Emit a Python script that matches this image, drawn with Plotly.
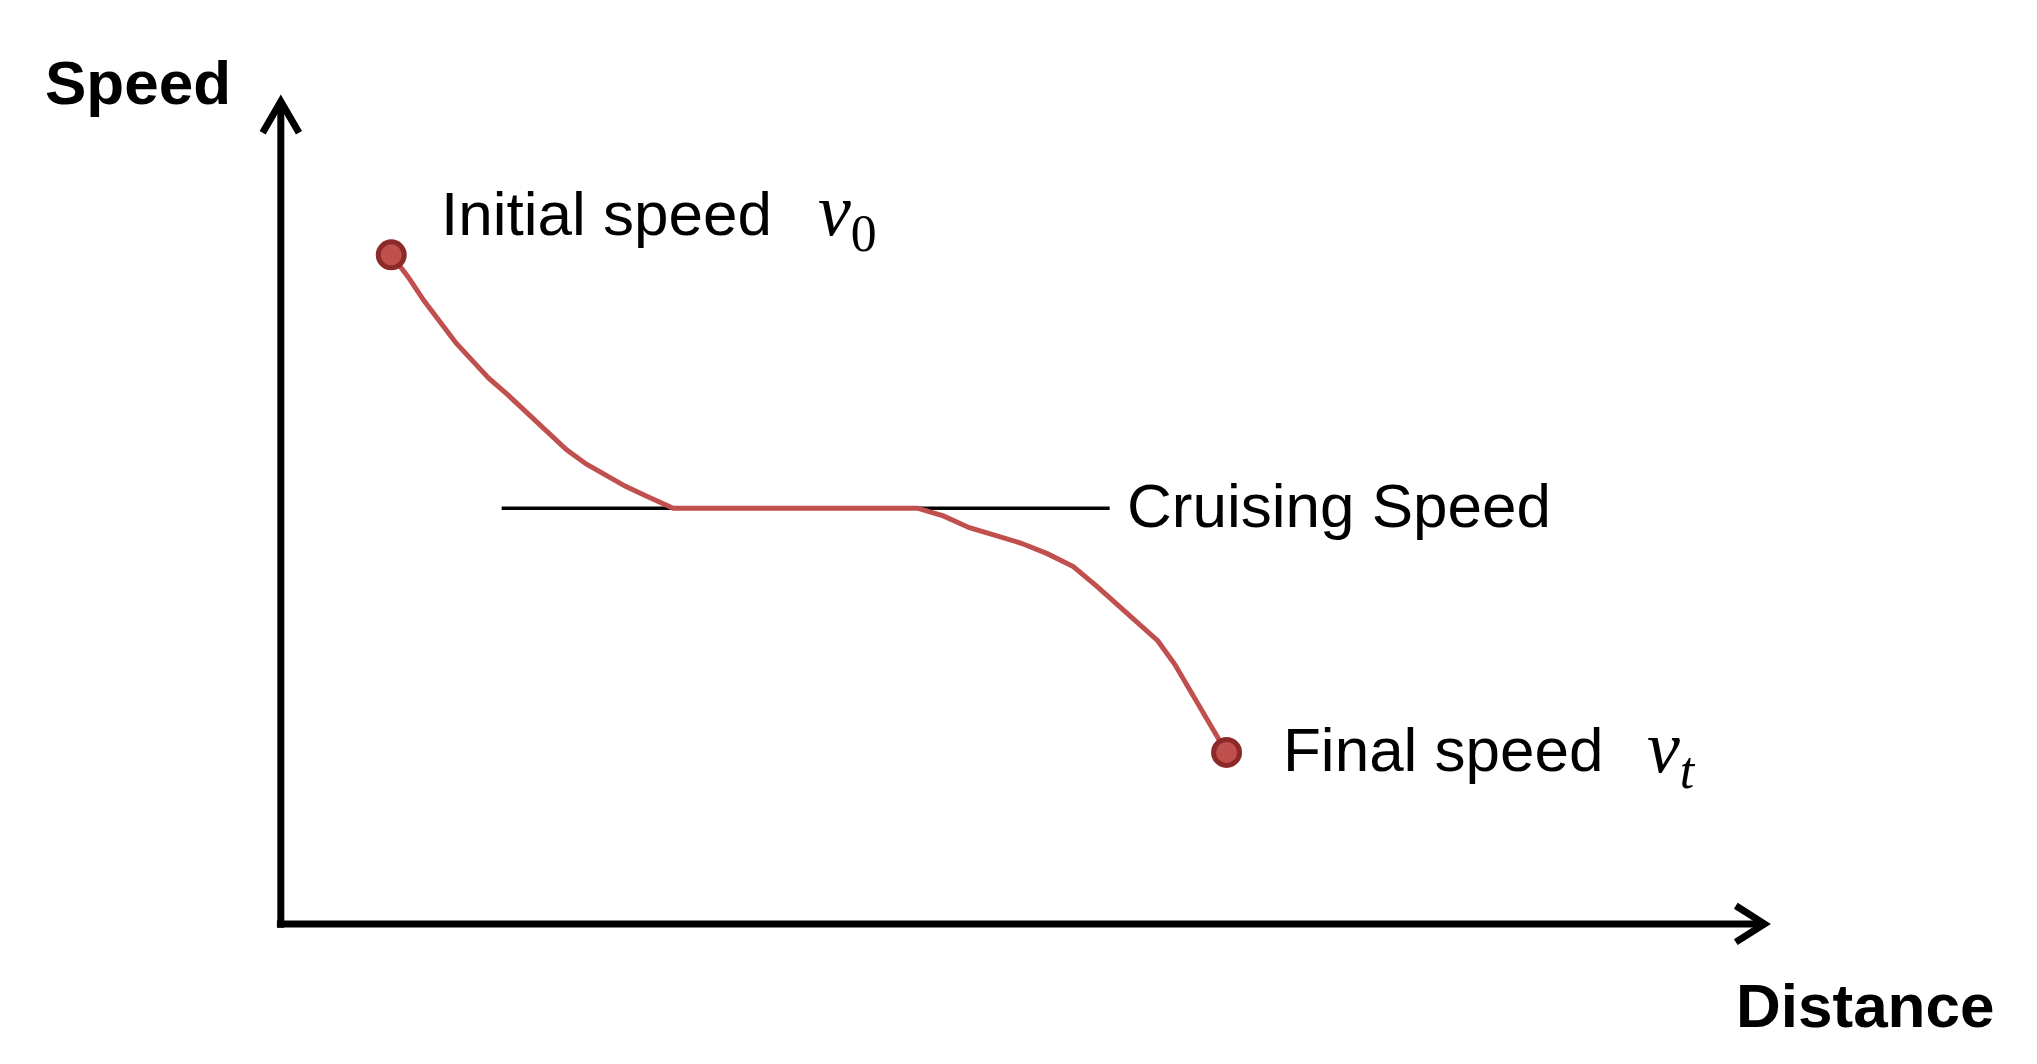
import plotly.graph_objects as go

# curve sample points (reference pixel frame, 1568 x 819)
curve_x = [295, 308, 320, 333, 345, 358, 370, 385, 400, 415, 430, 445, 460, 475, 490, 502, 512, 600, 700, 720, 740, 760, 780, 800, 820, 838, 855, 870, 885, 898, 910, 924, 938]
curve_y = [190, 207, 225, 242, 258, 272, 285, 298, 312, 326, 340, 351, 360, 368, 375, 381, 385, 385, 385, 391, 400, 406, 412, 420, 430, 445, 460, 473, 487, 505, 525, 549, 573]
end_x = [295, 938]
end_y = [190, 573]
cruise_x = [380, 848]
cruise_y = [385, 385]

W, H = 1568, 819
fig = go.Figure()
fig.add_trace(go.Scatter(x=cruise_x, y=cruise_y, mode="lines",
                         line=dict(color="black", width=3.5), hoverinfo="skip"))
fig.add_trace(go.Scatter(x=curve_x, y=curve_y, mode="lines",
                         line=dict(color="#C0504D", width=5), hoverinfo="skip"))
fig.add_trace(go.Scatter(x=end_x, y=end_y, mode="markers",
                         marker=dict(size=26, color="#C0504D", line=dict(color="#8B2A28", width=5)),
                         hoverinfo="skip"))

axis_style = dict(color="black", width=7)
shapes = [
    dict(type="line", xref="x", yref="y", x0=210, y0=708, x1=210, y1=72, line=axis_style),
    dict(type="line", xref="x", yref="y", x0=207, y0=705, x1=1352, y1=705, line=axis_style),
    dict(type="path", xref="x", yref="y", path="M 196 96 L 210 72 L 224 96", line=axis_style),
    dict(type="path", xref="x", yref="y", path="M 1330 691 L 1352 705 L 1330 719", line=axis_style),
]

sans = "Liberation Sans, Arial"
serif = "Liberation Serif, Times New Roman"
ann = []
ann.append(dict(x=27, y=57, xref="x", yref="y", text="<b>Speed</b>", showarrow=False,
                xanchor="left", yanchor="middle", font=dict(family=sans, size=62, color="black")))
ann.append(dict(x=1530, y=768, xref="x", yref="y", text="<b>Distance</b>", showarrow=False,
                xanchor="right", yanchor="middle", font=dict(family=sans, size=62, color="black")))
ann.append(dict(x=332, y=158, xref="x", yref="y", text="Initial speed", showarrow=False,
                xanchor="left", yanchor="middle", font=dict(family=sans, size=62, color="black")))
ann.append(dict(x=622, y=160, xref="x", yref="y", text="<i>v</i><sub>0</sub>", showarrow=False,
                xanchor="left", yanchor="middle", font=dict(family=serif, size=74, color="black")))
ann.append(dict(x=860, y=383, xref="x", yref="y", text="Cruising Speed", showarrow=False,
                xanchor="left", yanchor="middle", font=dict(family=sans, size=62, color="black")))
ann.append(dict(x=980, y=571, xref="x", yref="y", text="Final speed", showarrow=False,
                xanchor="left", yanchor="middle", font=dict(family=sans, size=62, color="black")))
ann.append(dict(x=1260, y=573, xref="x", yref="y", text="<i>v</i><sub><i>t</i></sub>", showarrow=False,
                xanchor="left", yanchor="middle", font=dict(family=serif, size=74, color="black")))

fig.update_layout(
    width=2037, height=1064, margin=dict(l=0, r=0, t=0, b=0),
    paper_bgcolor="white", plot_bgcolor="white", showlegend=False,
    xaxis=dict(range=[0, W], visible=False, fixedrange=True),
    yaxis=dict(range=[H, 0], visible=False, fixedrange=True),
    annotations=ann, shapes=shapes,
)
fig.write_html("out.html")
